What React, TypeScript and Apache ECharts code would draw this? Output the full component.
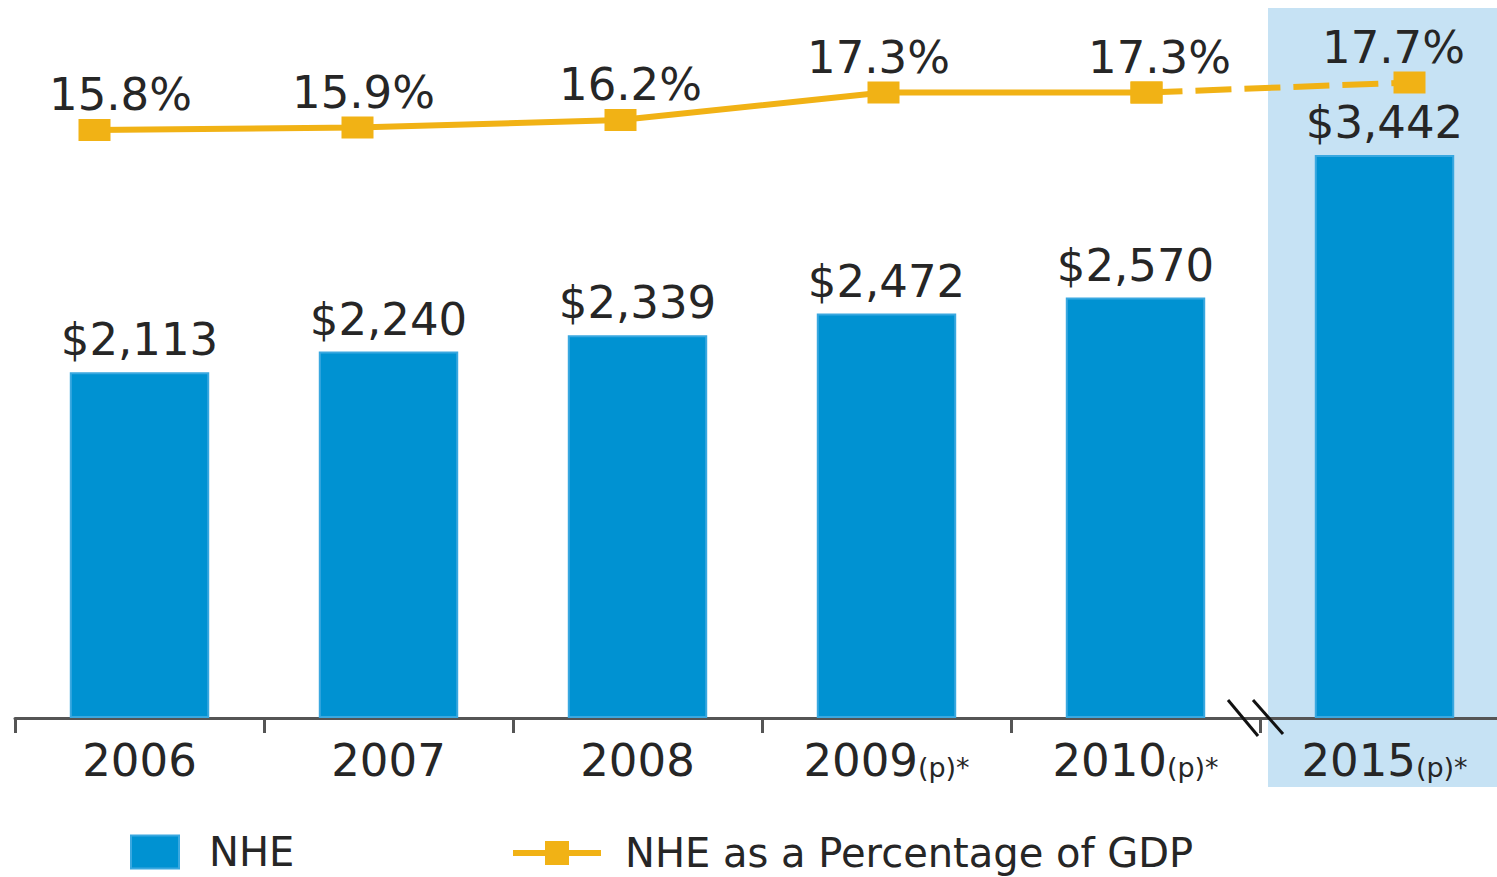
import React, { useEffect, useRef } from "react";
import * as echarts from "echarts";

const categories = ["2006", "2007", "2008", "2009(p)*", "2010(p)*", "2015(p)*"];
const nheValues = [2113, 2240, 2339, 2472, 2570, 3442];
const gdpPctActual: (number | string)[] = [15.8, 15.9, 16.2, 17.3, 17.3, "-"];
const gdpPctProjected: (number | string)[] = ["-", "-", "-", "-", 17.3, 17.7];
const pctLabelOffsets = [26, 6, 10, -5, 13, -16];

const FONT = "DejaVu Sans";
const TEXT = "#262626";
const BLUE = "#0092d2";
const GOLD = "#f1b215";

export default function App() {
  const ref = useRef<HTMLDivElement>(null);
  useEffect(() => {
    if (!ref.current) return;
    const chart = echarts.init(ref.current, undefined, { renderer: "svg" });
    const solidData = gdpPctActual.map((v, i) => ({
      value: v,
      label: { show: v !== "-", offset: [pctLabelOffsets[i], 0] },
    }));
    const dashData = gdpPctProjected.map((v, i) => ({
      value: v,
      label: { show: i === 5, offset: [pctLabelOffsets[i], 0] },
    }));
    chart.setOption({
      animation: false,
      backgroundColor: "#ffffff",
      textStyle: { fontFamily: FONT },
      grid: [
        { left: 15, width: 1494, top: 10, bottom: 159, outerBoundsMode: "none", containLabel: false },
        { left: -37, width: 1578, top: 10, bottom: 159, outerBoundsMode: "none", containLabel: false },
      ],
      legend: [
        {
          data: ["NHE"],
          left: 130,
          top: 832,
          padding: 0,
          itemWidth: 48,
          itemHeight: 33,
          icon: "rect",
          textStyle: { fontFamily: FONT, fontSize: 40, lineHeight: 32, color: TEXT, padding: [0, 0, 0, 25] },
        },
        {
          data: ["NHE as a Percentage of GDP"],
          left: 510,
          top: 833,
          padding: 0,
          itemWidth: 88,
          itemHeight: 30,
          lineStyle: { width: 6, color: GOLD },
          itemStyle: { color: GOLD },
          textStyle: { fontFamily: FONT, fontSize: 40, lineHeight: 32, color: TEXT, padding: [0, 0, 0, 19] },
        },
      ],
      xAxis: [
        {
          type: "category",
          gridIndex: 0,
          data: categories,
          axisLine: { lineStyle: { color: "#555555", width: 3 } },
          axisTick: { show: true, interval: 0, length: 15, lineStyle: { color: "#555555", width: 3 } },
          axisLabel: {
            interval: 0,
            hideOverlap: false,
            margin: 20,
            color: TEXT,
            fontFamily: FONT,
            fontSize: 45,
            formatter: (v: string) => {
              const m = v.match(/^(\d+)(.*)$/);
              if (m && m[2]) return `{b|${m[1]}}{s|${m[2]}}`;
              return `{b|${v}}`;
            },
            rich: {
              b: { fontFamily: FONT, fontSize: 45, color: TEXT, verticalAlign: "bottom" },
              s: { fontFamily: FONT, fontSize: 27, color: TEXT, verticalAlign: "bottom", padding: [0, 0, 2, 0] },
            },
          },
        },
        {
          type: "category",
          gridIndex: 1,
          data: categories,
          show: false,
        },
      ],
      yAxis: [
        { type: "value", gridIndex: 0, min: 0, max: 4328, show: false, splitLine: { show: false } },
        { type: "value", gridIndex: 1, min: -7.72, max: 20.6, show: false, splitLine: { show: false } },
      ],
      graphic: [
        {
          type: "rect",
          z: -10,
          shape: { x: 1268, y: 8, width: 229, height: 779 },
          style: { fill: "#c6e2f4" },
        },
        {
          type: "line",
          z: 100,
          shape: { x1: 1228, y1: 700, x2: 1258, y2: 736 },
          style: { stroke: "#111111", lineWidth: 3 },
        },
        {
          type: "line",
          z: 100,
          shape: { x1: 1253, y1: 700, x2: 1283, y2: 734 },
          style: { stroke: "#111111", lineWidth: 3 },
        },
      ],
      series: [
        {
          name: "NHE",
          type: "bar",
          xAxisIndex: 0,
          yAxisIndex: 0,
          data: nheValues,
          barWidth: "56%",
          itemStyle: { color: BLUE, borderColor: "#3aa8e0", borderWidth: 2 },
          label: {
            show: true,
            position: "top",
            distance: 10,
            color: TEXT,
            fontFamily: FONT,
            fontSize: 45,
            formatter: (p: any) => "$" + Number(p.value).toLocaleString("en-US"),
          },
        },
        {
          name: "NHE as a Percentage of GDP",
          type: "line",
          xAxisIndex: 1,
          yAxisIndex: 1,
          data: solidData,
          symbol: "rect",
          symbolSize: [32, 22],
          z: 5,
          itemStyle: { color: GOLD },
          lineStyle: { color: GOLD, width: 6 },
          label: {
            position: "top",
            distance: 2,
            color: TEXT,
            fontFamily: FONT,
            fontSize: 45,
            formatter: (p: any) => Number(p.value).toFixed(1) + "%",
          },
        },
        {
          name: "Projected",
          type: "line",
          xAxisIndex: 1,
          yAxisIndex: 1,
          data: dashData,
          symbol: "rect",
          symbolSize: [32, 22],
          z: 4,
          itemStyle: { color: GOLD },
          lineStyle: { color: GOLD, width: 6, type: [36, 13] },
          label: {
            position: "top",
            distance: 2,
            color: TEXT,
            fontFamily: FONT,
            fontSize: 45,
            formatter: (p: any) => Number(p.value).toFixed(1) + "%",
          },
        },
      ],
    });
    return () => chart.dispose();
  }, []);
  return (
    <div
      ref={ref}
      style={{ position: "fixed", left: 0, top: 0, width: 1497, height: 877 }}
    />
  );
}
